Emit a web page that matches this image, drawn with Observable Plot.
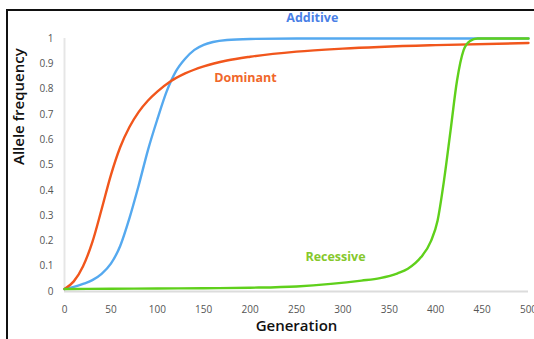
<!DOCTYPE html>
<html>
<head>
<meta charset="utf-8">
<script src="https://cdn.jsdelivr.net/npm/d3@7"></script>
<script src="https://cdn.jsdelivr.net/npm/@observablehq/plot@0.6"></script>
<style>
  html, body { margin: 0; padding: 0; background: #fff; }
  body { width: 534px; height: 339px; overflow: hidden; position: relative; }
  #frame { position: absolute; left: 6px; top: 9px; width: 600px; height: 400px;
           border-left: 2px solid #111; border-top: 2px solid #111; }
  #chart { position: absolute; left: 0; top: 0; }
</style>
</head>
<body>
<div id="frame"></div>
<div id="chart"></div>
<script>
const additiveGen = [0, 10, 20, 30, 40, 50, 60, 70, 80, 90, 100, 110, 120, 130, 140, 150, 160, 175, 200, 250, 300, 400, 500];
const additiveVal = [0.01, 0.018, 0.03, 0.045, 0.07, 0.11, 0.18, 0.29, 0.42, 0.56, 0.68, 0.79, 0.87, 0.92, 0.955, 0.975, 0.986, 0.994, 0.998, 1, 1, 1, 1];

const dominantGen = [0, 10, 20, 30, 40, 50, 60, 70, 80, 90, 100, 114, 130, 150, 175, 200, 250, 300, 400, 500];
const dominantVal = [0.01, 0.04, 0.1, 0.195, 0.325, 0.46, 0.57, 0.65, 0.71, 0.755, 0.79, 0.83, 0.862, 0.89, 0.913, 0.928, 0.948, 0.96, 0.974, 0.982];

const recessiveGen = [0, 50, 100, 150, 200, 250, 287, 320, 340, 359, 370, 384, 395, 402, 409, 416, 423, 430, 437, 445, 500];
const recessiveVal = [0.01, 0.011, 0.012, 0.013, 0.015, 0.02, 0.03, 0.043, 0.053, 0.072, 0.09, 0.135, 0.2, 0.28, 0.44, 0.636, 0.834, 0.953, 0.99, 1.0, 1.0];

const seriesNames = ["Additive", "Dominant", "Recessive"];
const lineColors = ["#55a9ef", "#f1561c", "#5fd01b"];
const labelColors = ["#4a7fe6", "#f0672a", "#86c82c"];
const labelGen = [267, 195, 292];
const labelVal = [1.08, 0.842, 0.138];

const xTicks = [0, 50, 100, 150, 200, 250, 300, 350, 400, 450, 500];
const yTicks = [0, 0.1, 0.2, 0.3, 0.4, 0.5, 0.6, 0.7, 0.8, 0.9, 1];
const xTitle = "Generation";
const yTitle = "Allele frequency";

const toRows = (name, gens, vals) => gens.map((g, i) => ({series: name, gen: g, val: vals[i]}));
const data = [
  ...toRows(seriesNames[0], additiveGen, additiveVal),
  ...toRows(seriesNames[1], dominantGen, dominantVal),
  ...toRows(seriesNames[2], recessiveGen, recessiveVal)
];
const labels = seriesNames.map((s, i) => ({series: s, gen: labelGen[i], val: labelVal[i]}));

const font = "'Open Sans', Lato, sans-serif";

const chart = Plot.plot({
  width: 534,
  height: 339,
  marginLeft: 64,
  marginRight: 6,
  marginTop: 38,
  marginBottom: 48,
  style: {fontFamily: font, background: "transparent", overflow: "visible"},
  x: {domain: [0, 500]},
  y: {domain: [0, 1]},
  color: {domain: seriesNames, range: lineColors},
  marks: [
    Plot.ruleY([0], {stroke: "#dcdcdc", strokeWidth: 2}),
    Plot.ruleX([0], {stroke: "#e6e6e6", strokeWidth: 2}),
    Plot.axisX(xTicks, {tickSize: 0, tickPadding: 14, fontSize: 10, fill: "#555", label: null}),
    Plot.axisY(yTicks, {tickSize: 0, tickPadding: 11, fontSize: 10, fill: "#555", tickFormat: "~g", label: null}),
    Plot.line(data, {x: "gen", y: "val", z: "series", stroke: "series", strokeWidth: 2.4, curve: "monotone-x"}),
    Plot.text(labels, {x: "gen", y: "val", text: "series", fill: (d, i) => labelColors[i], fontSize: 12.5, fontWeight: "bold"}),
    Plot.text([xTitle], {frameAnchor: "bottom", dy: 39, fontSize: 15, fill: "#111", fontWeight: 600}),
    Plot.text([yTitle], {frameAnchor: "left", dx: -45, rotate: -90, fontSize: 15, fill: "#111", fontWeight: 600})
  ]
});
document.getElementById("chart").appendChild(chart);
</script>
</body>
</html>
